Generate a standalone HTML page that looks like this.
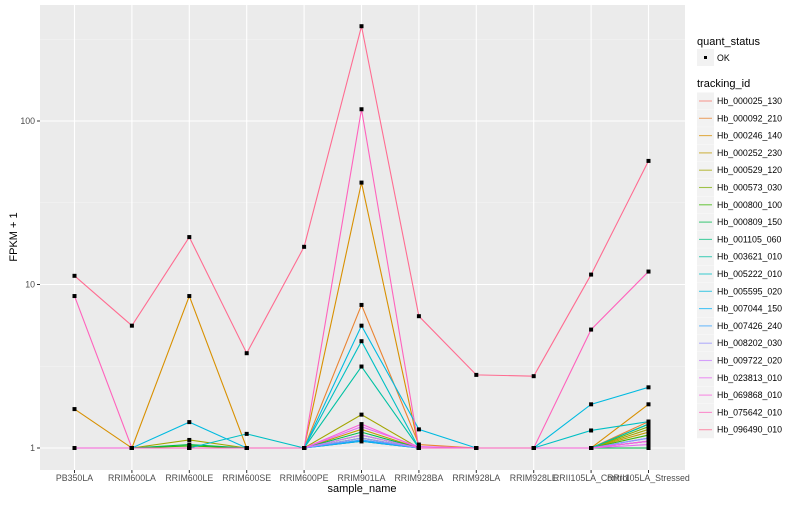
<!DOCTYPE html>
<html><head><meta charset="utf-8"><style>
body{margin:0;background:#fff;font-family:"Liberation Sans",sans-serif}
svg text{font-family:"Liberation Sans",sans-serif}
</style></head><body>
<svg id="c" width="800" height="500" xmlns="http://www.w3.org/2000/svg">
<rect x="40" y="5" width="645" height="465" fill="#EBEBEB"/>
<g id="grid"></g><g id="lines"></g><g id="pts"></g><g id="axes"></g><g id="legend"></g>
<text x="362" y="492" text-anchor="middle" font-size="11" fill="#000">sample_name</text>
<text transform="translate(17,237) rotate(-90)" text-anchor="middle" font-size="11" fill="#000">FPKM + 1</text>
</svg>
<script>
const categories=["PB350LA","RRIM600LA","RRIM600LE","RRIM600SE","RRIM600PE","RRIM901LA","RRIM928BA","RRIM928LA","RRIM928LE","RRII105LA_Control","RRII105LA_Stressed"];
const trackingIds=["Hb_000025_130","Hb_000092_210","Hb_000246_140","Hb_000252_230","Hb_000529_120","Hb_000573_030","Hb_000800_100","Hb_000809_150","Hb_001105_060","Hb_003621_010","Hb_005222_010","Hb_005595_020","Hb_007044_150","Hb_007426_240","Hb_008202_030","Hb_009722_020","Hb_023813_010","Hb_069868_010","Hb_075642_010","Hb_096490_010"];
const s01=[1,1,1,1,1,1.1,1,1,1,1,1.1];
const s02=[1,1,1,1,1,7.5,1.05,1,1,1,1.45];
const s03=[1.73,1,8.5,1,1,42,1,1,1,1,1.85];
const s04=[1,1,1,1,1,1.3,1,1,1,1,1.25];
const s05=[1,1,1.12,1,1,1.6,1,1,1,1,1.3];
const s06=[1,1,1,1,1,1.2,1,1,1,1,1.35];
const s07=[1,1,1.03,1,1,1.15,1,1,1,1,1.2];
const s08=[1,1,1.05,1,1,1.25,1,1,1,1,1];
const s09=[1,1,1,1,1,1.1,1,1,1,1,1.4];
const s10=[1,1,1,1,1,3.15,1,1,1,1,1.4];
const s11=[1,1,1,1.22,1,4.5,1,1,1,1.28,1.45];
const s12=[1,1,1.44,1,1,5.6,1.3,1,1,1.85,2.35];
const s13=[1,1,1,1,1,1.1,1,1,1,1,1.15];
const s14=[1,1,1,1,1,1.12,1,1,1,1,1.1];
const s15=[1,1,1,1,1,1.15,1,1,1,1,1.15];
const s16=[1,1,1,1,1,1.2,1,1,1,1,1.1];
const s17=[1,1,1,1,1,1.35,1.02,1,1,1,1.05];
const s18=[1,1,1,1,1,1.4,1,1,1,1,1.1];
const s19=[8.5,1,1,1,1,118,1,1,1,5.3,12];
const s20=[11.3,5.6,19.5,3.8,17,380,6.4,2.8,2.75,11.5,57];
const series=[s01,s02,s03,s04,s05,s06,s07,s08,s09,s10,s11,s12,s13,s14,s15,s16,s17,s18,s19,s20];
const colors=["#F8766D","#EA8331","#D89000","#C09B00","#A3A500","#7CAE00","#39B600","#00BB4E","#00BF7D","#00C1A3","#00BFC4","#00BAE0","#00B0F6","#35A2FF","#9590FF","#C77CFF","#E76BF3","#FA62DB","#FF62BC","#FF6C91"];
const yTicks=[1,10,100];
const NS="http://www.w3.org/2000/svg";
function mk(p,t,a){const e=document.createElementNS(NS,t);for(const k in a)e.setAttribute(k,a[k]);p.appendChild(e);return e;}
const X=i=>74.5+i*57.4;
const Y=v=>448-163.5*Math.log10(v);
const grid=document.getElementById('grid'),lines=document.getElementById('lines'),pts=document.getElementById('pts'),axes=document.getElementById('axes'),leg=document.getElementById('legend');
for(let k=0;k<3;k++){const m=mk(grid,'line',{x1:40,x2:685,y1:Y(Math.pow(10,k+0.5)),y2:Y(Math.pow(10,k+0.5)),stroke:'#F5F5F5','stroke-width':0.6});

}
yTicks.forEach(v=>{const g=mk(grid,'line',{x1:40,x2:685,y1:Y(v),y2:Y(v),stroke:'#fff','stroke-width':1.1});


mk(axes,'line',{x1:37,x2:40,y1:Y(v),y2:Y(v),stroke:'#333'});
const t=mk(axes,'text',{x:35,y:Y(v)+3,'text-anchor':'end','font-size':8.8,fill:'#4D4D4D'});t.textContent=v;

});
categories.forEach((c,i)=>{const g=mk(grid,'line',{x1:X(i),x2:X(i),y1:5,y2:470,stroke:'#fff','stroke-width':1.1});


mk(axes,'line',{x1:X(i),x2:X(i),y1:470,y2:473,stroke:'#333'});
const t=mk(axes,'text',{x:X(i),y:481,'text-anchor':'middle','font-size':8.8,fill:'#4D4D4D'});t.textContent=c;

});
series.forEach((s,j)=>{const p=mk(lines,'polyline',{points:s.map((v,i)=>X(i)+','+Y(v)).join(' '),fill:'none',stroke:colors[j],'stroke-width':1.1});


s.forEach((v,i)=>{const r=mk(pts,'rect',{x:X(i)-2,y:Y(v)-2,width:4,height:4,fill:'#000'});

});});
let t=mk(leg,'text',{x:697,y:45,'font-size':11});t.textContent='quant_status';


mk(leg,'rect',{x:697,y:49,width:17,height:17,fill:'#F2F2F2'});
mk(leg,'rect',{x:704,y:56,width:3,height:3,fill:'#000'});
t=mk(leg,'text',{x:717,y:61,'font-size':8.8});t.textContent='OK';


t=mk(leg,'text',{x:697,y:87,'font-size':11});t.textContent='tracking_id';


trackingIds.forEach((id,j)=>{const y=101+j*17.3;
mk(leg,'rect',{x:697,y:y-8.5,width:17,height:17,fill:'#F2F2F2'});
mk(leg,'line',{x1:699,x2:712,y1:y,y2:y,stroke:colors[j],'stroke-width':1.1,'stroke-opacity':0.7});
const tt=mk(leg,'text',{x:717,y:y+3,'font-size':8.8});tt.textContent=id;

});
</script>
</body></html>
